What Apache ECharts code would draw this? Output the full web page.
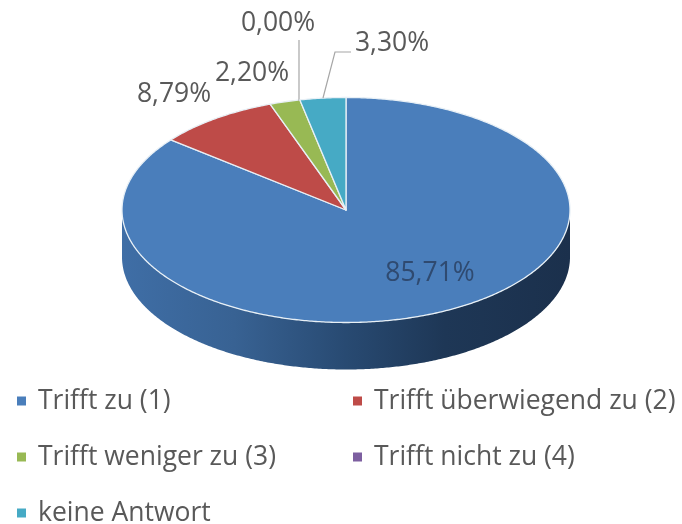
<!DOCTYPE html>
<html><head><meta charset="utf-8">
<style>html,body{margin:0;padding:0;background:#fff}#c{width:682px;height:524px;filter:blur(0.4px)}</style>
<script src="https://cdn.jsdelivr.net/npm/echarts@6/dist/echarts.min.js"></script>
</head><body><div id="c"></div>
<script>
const categories = ['Trifft zu (1)', 'Trifft überwiegend zu (2)', 'Trifft weniger zu (3)', 'Trifft nicht zu (4)', 'keine Antwort'];
const percentValues = [85.71, 8.79, 2.20, 0.00, 3.30];
const colors = ['#4a7ebb', '#be4b48', '#98b954', '#7d5fa0', '#46aac5'];

const FONT = '"Open Sans", sans-serif';
const CX = 346, CY = 210, RX = 224, RY = 112.5, DEPTH = 47;
const total = percentValues.reduce((a, b) => a + b, 0);
const labelPos = [[430, 273], [174, 94], [252, 73], [278, 23], [392, 43]];
const labelColor = ['#2f4a70', '#595959', '#595959', '#595959', '#595959'];
const leaders = {3: [[299, 101], [299, 40]], 4: [[323, 98], [335, 52], [351, 52]]};
const legendPos = [[17, 401], [353, 401], [17, 457], [353, 457], [17, 513]];

const pt = (deg, dy) => {
  const r = deg * Math.PI / 180;
  return [CX + RX * Math.sin(r), CY - RY * Math.cos(r) + (dy || 0)];
};
const arc = (a, b, dy) => {
  const out = [], n = Math.max(2, Math.ceil(Math.abs(b - a) * 2));
  for (let i = 0; i <= n; i++) out.push(pt(a + (b - a) * i / n, dy));
  return out;
};
const wallFill = {
  type: 'linear', x: CX - RX, y: 0, x2: CX + RX, y2: 0, global: true,
  colorStops: [
    {offset: 0, color: '#3f6ea6'}, {offset: 0.25, color: '#386293'},
    {offset: 0.5, color: '#284a72'}, {offset: 0.72, color: '#1e3756'},
    {offset: 1, color: '#1b304c'}
  ]
};

function sliceRenderer(idx) {
  return function (params, api) {
    const value = api.value(0);
    let before = 0;
    for (let i = 0; i < idx; i++) before += percentValues[i];
    const a0 = before / total * 360, a1 = (before + value) / total * 360;
    const children = [];
    const w0 = Math.max(a0, 90), w1 = Math.min(a1, 270);
    if (w1 > w0) {
      children.push({
        type: 'polygon',
        shape: {points: arc(w0, w1, 0).concat(arc(w1, w0, DEPTH))},
        style: {fill: wallFill, stroke: null}
      });
    }
    if (a1 > a0) {
      children.push({
        type: 'polygon',
        shape: {points: [[CX, CY]].concat(arc(a0, a1, 0))},
        style: {fill: colors[idx], stroke: '#e8f0f6', lineWidth: 1.3, lineJoin: 'round'}
      });
    }
    const lead = leaders[idx];
    if (lead) {
      children.push({
        type: 'polyline', shape: {points: lead},
        style: {fill: null, stroke: '#a6a6a6', lineWidth: 1.2}
      });
    }
    children.push({
      type: 'text',
      x: labelPos[idx][0], y: labelPos[idx][1],
      z2: 10,
      style: {
        text: value.toFixed(2).replace('.', ',') + '%',
        fill: labelColor[idx], font: '26.5px ' + FONT,
        align: 'center', verticalAlign: 'middle'
      }
    });
    return {type: 'group', children};
  };
}

const chart = echarts.init(document.getElementById('c'), null, {renderer: 'canvas'});
chart.setOption({
  animation: false,
  backgroundColor: '#fff',
  legend: categories.map((name, i) => ({
    data: [name],
    left: legendPos[i][0],
    top: legendPos[i][1] - 17,
    itemWidth: 9, itemHeight: 9, icon: 'rect', padding: 0,
    selectedMode: false,
    textStyle: {
      color: '#595959', fontFamily: FONT, fontSize: 26.5, lineHeight: 34,
      padding: [0, 0, 0, 7]
    }
  })),
  series: categories.map((name, i) => ({
    type: 'custom',
    name,
    coordinateSystem: 'none',
    silent: true,
    itemStyle: {color: colors[i]},
    data: [[percentValues[i]]],
    renderItem: sliceRenderer(i)
  }))
});
</script></body></html>
